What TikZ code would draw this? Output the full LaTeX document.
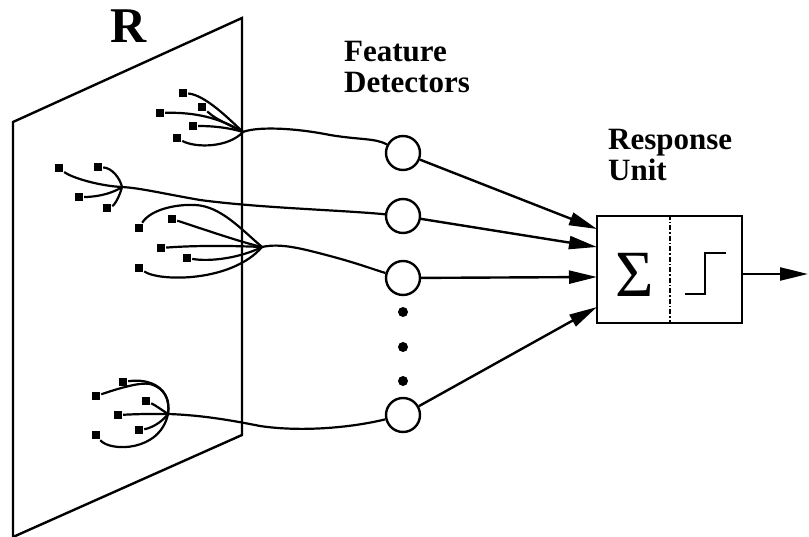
\documentclass[tikz,border=0pt]{standalone}
\usepackage{fontspec}
\setmainfont{Liberation Serif}
\usepackage{tikz}
\usetikzlibrary{positioning,arrows.meta}

\begin{document}
\begin{tikzpicture}[x=1pt, y=-1pt, line width=2.4pt,
detnode/.style={circle, draw=black, fill=white, line width=2.4pt, minimum size=34pt, inner sep=0pt},
pixnode/.style={rectangle, fill=black, minimum size=8pt, inner sep=0pt},
sumbox/.style={rectangle, draw=black, line width=2.4pt, minimum width=145pt, minimum height=107pt, inner sep=0pt},
textlabel/.style={font=\fontsize{31}{31}\selectfont\bfseries, align=left, inner sep=0pt, anchor=base west},
wire/.style={line width=2.2pt},
arrow/.style={-{Triangle[length=28pt,width=13pt]}, line width=2.4pt},
]
\useasboundingbox (0,0) rectangle (809,537);

%Retina
\draw (13,122) -- (242,18) -- (242,435) -- (13,537) -- cycle;
\node[font=\fontsize{50}{50}\selectfont\bfseries, inner sep=0pt, anchor=base] (rlabel) at (129,43) {R};

%Nodes
\node[pixnode] (s1a) at (183,93) {};
\node[pixnode] (s1b) at (202,107) {};
\node[pixnode] (s1c) at (160,113) {};
\node[pixnode] (s1d) at (193,126) {};
\node[pixnode] (s1e) at (177,138) {};
\coordinate (j1) at (243,132);

\node[pixnode] (s2a) at (59,168) {};
\node[pixnode] (s2b) at (98,167) {};
\node[pixnode] (s2c) at (79,197) {};
\node[pixnode] (s2d) at (107,208) {};
\coordinate (j2) at (122,187);

\node[pixnode] (s3a) at (139,228) {};
\node[pixnode] (s3b) at (172,219) {};
\node[pixnode] (s3c) at (161,248) {};
\node[pixnode] (s3d) at (187,258) {};
\node[pixnode] (s3e) at (139,268) {};
\coordinate (j3) at (262,247);

\node[pixnode] (s4a) at (123,382) {};
\node[pixnode] (s4b) at (96,396) {};
\node[pixnode] (s4c) at (146,401) {};
\node[pixnode] (s4d) at (118,415) {};
\node[pixnode] (s4e) at (139,430) {};
\node[pixnode] (s4f) at (96,435) {};
\coordinate (j4) at (168,414);

\node[detnode] (fd1) at (403,153) {};
\node[detnode] (fd2) at (403,216) {};
\node[detnode] (fd3) at (403,278) {};
\node[detnode] (fd4) at (403,415) {};
\foreach \y in {312,347,381}
  \fill (403,\y) circle (5pt);

\node[textlabel] (fdlabel) at (343,93) {Feature\\Detectors};

\node[sumbox] (resp) at (669.5,269.5) {};
\node[textlabel] (resplabel) at (607,181) {Response\\Unit};
\node[inner sep=0pt, font=\fontsize{66}{66}\selectfont] (sigma) at (635,275) {Σ};
\coordinate (in1) at (597,229);
\coordinate (in2) at (597,247);
\coordinate (in3) at (597,277);
\coordinate (in4) at (597,307);
\coordinate (out) at (808,274);

%Lines
\draw[wire] (s1a) .. controls (205,95) and (228,118) .. (j1);
\draw[wire] (s1b) .. controls (215,118) .. (j1);
\draw[wire] (s1c) .. controls (195,112) and (220,118) .. (j1);
\draw[wire] (s1d) .. controls (215,126) and (230,128) .. (j1);
\draw[wire] (s1e) .. controls (195,148) and (228,148) .. (j1);
\draw[wire] (j1) .. controls (255,127) and (290,127) .. (330,135) .. controls (360,140) and (375,138) .. (fd1);

\draw[wire] (s2a) .. controls (72,178) and (100,186) .. (j2);
\draw[wire] (s2b) .. controls (112,168) and (120,178) .. (j2);
\draw[wire] (s2c) .. controls (100,197) and (115,192) .. (j2);
\draw[wire] (s2d) .. controls (115,205) and (120,195) .. (j2);
\draw[wire] (j2) .. controls (140,188) and (160,193) .. (200,200) .. controls (260,208) and (340,210) .. (fd2);

\draw[wire] (s3a) .. controls (150,210) and (175,204) .. (195,205) .. controls (220,206) and (240,228) .. (j3);
\draw[wire] (s3b) .. controls (200,228) and (240,242) .. (j3);
\draw[wire] (s3c) .. controls (200,245) and (240,246) .. (j3);
\draw[wire] (s3d) .. controls (210,262) and (240,258) .. (j3);
\draw[wire] (s3e) .. controls (160,282) and (232,282) .. (j3);
\draw[wire] (j3) .. controls (280,243) and (300,248) .. (330,256) .. controls (360,264) and (375,270) .. (fd3);

\draw[wire] (s4a) .. controls (150,378) and (172,388) .. (j4);
\draw[wire] (s4b) .. controls (120,388) and (140,382) .. (150,384) .. controls (165,388) and (170,400) .. (j4);
\draw[wire] (s4c) .. controls (155,405) and (162,410) .. (j4);
\draw[wire] (s4d) .. controls (140,414) .. (j4);
\draw[wire] (s4e) .. controls (152,428) and (162,422) .. (j4);
\draw[wire] (s4f) .. controls (110,452) and (160,452) .. (j4);
\draw[wire] (j4) .. controls (200,415) and (230,420) .. (260,426) .. controls (300,432) and (350,428) .. (fd4);

\draw[arrow] (fd1) -- (in1);
\draw[arrow] (fd2) -- (in2);
\draw[arrow] (fd3) -- (in3);
\draw[arrow] (fd4) -- (in4);
\draw[arrow] (resp.east |- out) -- (out);

%Unit
\draw[line width=2pt, dash pattern=on 5pt off 2pt on 1.5pt off 2pt] (resp.north) -- (resp.south);
\draw (685,294) -- (705,294) -- (705,253) -- (726,253);
\end{tikzpicture}
\end{document}
